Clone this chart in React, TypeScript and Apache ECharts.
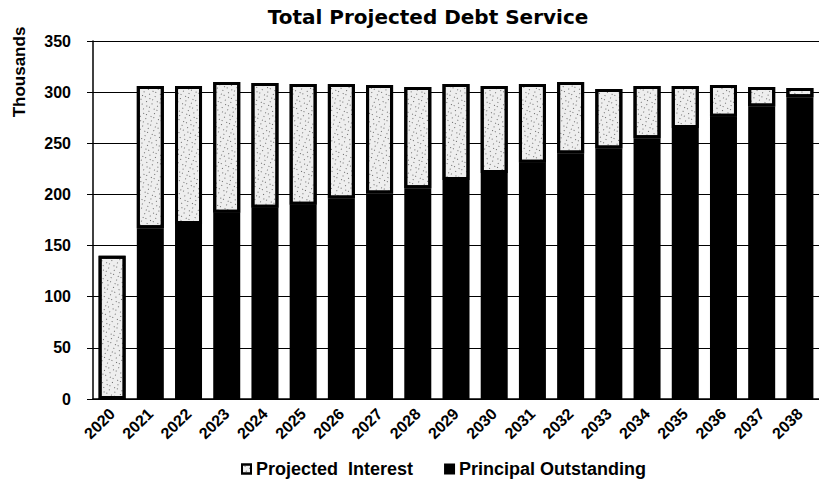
import React, { useEffect, useRef } from "react";
import * as echarts from "echarts";

const years = ["2020","2021","2022","2023","2024","2025","2026","2027","2028","2029","2030","2031","2032","2033","2034","2035","2036","2037","2038"];
const principal = [0, 167, 171, 182, 187, 190, 196, 201, 206, 214, 221, 231, 240, 245, 255, 265, 276, 286, 295];
const interest = [140, 139, 135, 128, 122, 118, 112, 106, 99, 94, 85, 77, 70, 58, 51, 41, 31, 19, 9];
const yTicks = [0, 50, 100, 150, 200, 250, 300, 350];

const FONT = "'Liberation Sans', Arial, sans-serif";

export default function App() {
  const ref = useRef<HTMLDivElement>(null);
  useEffect(() => {
    if (!ref.current) return;
    const chart = echarts.init(ref.current, null, { renderer: "svg" });
    chart.setOption({
      animation: false,
      backgroundColor: "#ffffff",
      title: {
        text: "Total Projected Debt Service",
        left: 423,
        textAlign: "center",
        top: 2,
        textStyle: { fontFamily: "'DejaVu Sans', sans-serif", fontSize: 20, fontWeight: "bold", color: "#000" },
      },
      graphic: [
        {
          type: "text",
          x: 19,
          y: 72,
          rotation: Math.PI / 2,
          style: {
            text: "Thousands",
            fontFamily: FONT,
            fontSize: 17,
            fontWeight: "bold",
            fill: "#000",
            textAlign: "center",
            textVerticalAlign: "middle",
          },
        },
      ],
      legend: {
        data: ["Projected Interest", "Principal Outstanding"],
        left: 236,
        top: 455,
        itemWidth: 9,
        itemHeight: 9,
        itemGap: 31,
        icon: "rect",
        textStyle: { fontFamily: FONT, fontSize: 18, fontWeight: "bold", color: "#000" },
        formatter: (n: string) => (n === "Projected Interest" ? "Projected  Interest" : n),
      },
      grid: { left: 93, right: -14, top: 41, bottom: 101 },
      xAxis: {
        type: "category",
        data: years,
        axisLine: { lineStyle: { color: "#000", width: 1.5 } },
        axisTick: { length: 4, lineStyle: { color: "#000" } },
        axisLabel: {
          rotate: 45,
          interval: 0,
          margin: 12,
          fontFamily: FONT,
          fontSize: 16,
          fontWeight: "bold",
          color: "#000",
        },
      },
      yAxis: {
        type: "value",
        min: yTicks[0],
        max: yTicks[yTicks.length - 1],
        interval: 50,
        axisLine: { show: true, lineStyle: { color: "#000", width: 1.5 } },
        axisTick: { show: true, length: 6, lineStyle: { color: "#000" } },
        splitLine: { show: true, lineStyle: { color: "#000", width: 1.2 } },
        axisLabel: {
          margin: 22,
          fontFamily: FONT,
          fontSize: 16,
          fontWeight: "bold",
          color: "#000",
        },
      },
      series: [
        {
          name: "Principal Outstanding",
          type: "bar",
          stack: "total",
          data: principal,
          barWidth: 27,
          itemStyle: { color: "#000", borderColor: "#000", borderWidth: 2 },
        },
        {
          name: "Projected Interest",
          type: "bar",
          stack: "total",
          data: interest,
          barWidth: 27,
          itemStyle: {
            color: "#eeeeee",
            borderColor: "#000",
            borderWidth: 3,
            decal: {
              symbol: "rect",
              symbolSize: 1,
              dashArrayX: [[1, 5], [1, 2, 1, 4]],
              dashArrayY: [1, 3],
              rotation: 0.4,
              color: "rgba(0,0,0,0.55)",
            },
          },
        },
      ],
    });
    return () => chart.dispose();
  }, []);
  return <div ref={ref} style={{ width: 819, height: 500, position: "absolute", left: 0, top: 0 }} />;
}
